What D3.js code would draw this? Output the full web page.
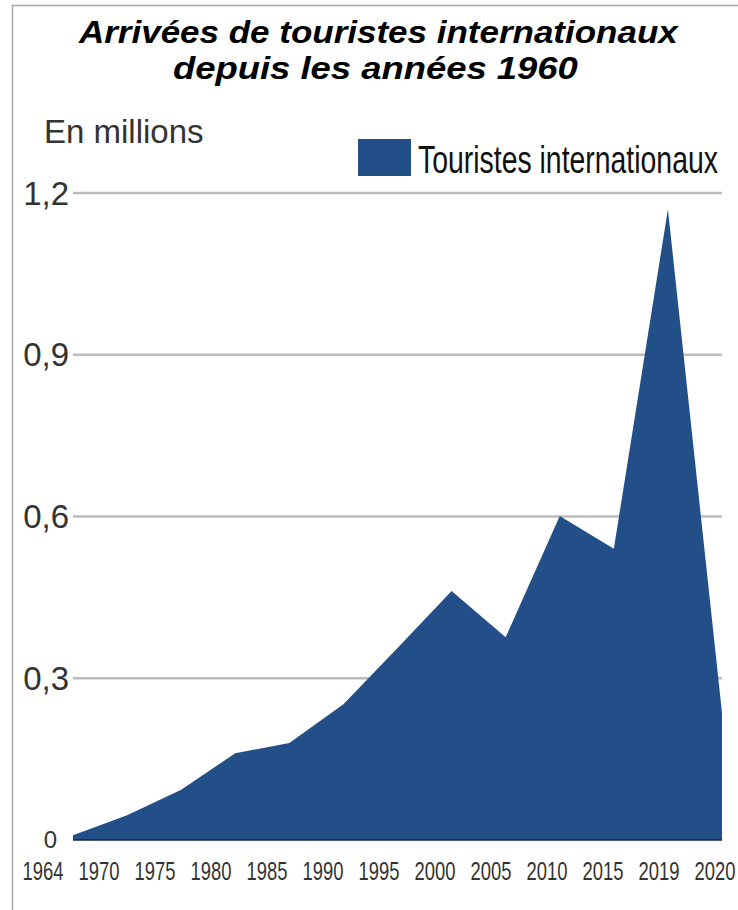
<!DOCTYPE html>
<html>
<head>
<meta charset="utf-8">
<script src="https://cdn.jsdelivr.net/npm/d3@7"></script>
<style>
	body { margin: 0; background: #fff; }
	text { font-family: 'Liberation Sans', Arial, sans-serif; }
</style>
</head>
<body>
<div id="chart"></div>
<script>
var years = ['1964', '1970', '1975', '1980', '1985', '1990', '1995', '2000', '2005', '2010', '2015', '2019', '2020']
var arrivals = [0.009, 0.046, 0.093, 0.161, 0.18, 0.252, 0.356, 0.462, 0.376, 0.601, 0.54, 1.17, 0.236]
var yTicks = [0, 0.3, 0.6, 0.9, 1.2]
var titleLines = ['Arrivées de touristes internationaux', 'depuis les années 1960']
var seriesName = 'Touristes internationaux'

// squeeze or stretch a text horizontally to a given width, left edge at x
function fitWidth(sel, x, y, w) {
	sel.each(function() {
		let t = d3.select(this)
		let natural = this.getComputedTextLength()
		t.attr('x', 0).attr('y', 0)
			.attr('transform', 'translate(' + x + ',' + y + ') scale(' + (w / natural) + ',1)')
	})
}

function createChart() {
	let width = 738
	let height = 910
	let blue = '#234f89'

	const svg = d3.select('#chart').append('svg')
		.attr('width', width)
		.attr('height', height)

	// frame (left and top edges visible)
	svg.append('path')
		.attr('d', 'M12.5,' + height + 'V5.5H' + width)
		.attr('fill', 'none')
		.attr('stroke', '#a8a8a8')
		.attr('stroke-width', 1.5)

	var x = d3.scalePoint()
		.domain(years)
		.range([73, 722])

	// tick labels are not quite on the points in the original
	var xLabel = d3.scalePoint()
		.domain(years)
		.range([43, 715])

	var y = d3.scaleLinear()
		.domain([0, 1.2])
		.range([840, 193])

	// grid
	svg.append('g')
		.selectAll('line')
		.data(yTicks.filter(d => d > 0))
		.enter()
		.append('line')
		.attr('x1', x.range()[0])
		.attr('x2', x.range()[1])
		.attr('y1', d => y(d))
		.attr('y2', d => y(d))
		.attr('stroke', '#bcbcbc')
		.attr('stroke-width', 2.5)

	// area
	var area = d3.area()
		.x((d, i) => x(years[i]))
		.y0(y(0))
		.y1(d => y(d))

	svg.append('path')
		.datum(arrivals)
		.attr('d', area)
		.attr('fill', blue)

	// baseline
	svg.append('line')
		.attr('x1', x.range()[0])
		.attr('x2', x.range()[1])
		.attr('y1', y(0))
		.attr('y2', y(0))
		.attr('stroke', '#15263f')
		.attr('stroke-width', 1.5)

	// y labels
	svg.append('g')
		.selectAll('text')
		.data(yTicks)
		.enter()
		.append('text')
		.attr('x', d => d === 0 ? 57 : 69)
		.attr('y', d => y(d))
		.attr('dy', '0.35em')
		.attr('text-anchor', 'end')
		.attr('fill', '#333')
		.style('font-size', d => d === 0 ? '24px' : '33px')
		.text(d => d3.format('.1f')(d).replace('.', ',').replace(/^0,0$/, '0'))

	// x labels (narrow font in original)
	var xl = svg.append('g')
		.selectAll('text')
		.data(years)
		.enter()
		.append('text')
		.attr('fill', '#333')
		.style('font-size', '26px')
		.text(d => d)
	xl.each(function(d) {
		fitWidth(d3.select(this), xLabel(d) - 20.5, 880, 41)
	})

	// title
	svg.append('text')
		.style('font-size', '32px')
		.style('font-weight', 'bold')
		.style('font-style', 'italic')
		.attr('fill', '#000')
		.text(titleLines[0])
		.call(fitWidth, 79, 43, 599)

	svg.append('text')
		.style('font-size', '32px')
		.style('font-weight', 'bold')
		.style('font-style', 'italic')
		.attr('fill', '#000')
		.text(titleLines[1])
		.call(fitWidth, 173, 79, 405)

	// unit
	svg.append('text')
		.attr('x', 44)
		.attr('y', 143)
		.attr('fill', '#333')
		.style('font-size', '33px')
		.text('En millions')

	// legend
	svg.append('rect')
		.attr('x', 358)
		.attr('y', 139)
		.attr('width', 53)
		.attr('height', 37)
		.attr('fill', blue)

	svg.append('text')
		.attr('fill', '#111')
		.style('font-size', '39px')
		.text(seriesName)
		.call(fitWidth, 418, 173, 300)
}

createChart()
</script>
</body>
</html>
